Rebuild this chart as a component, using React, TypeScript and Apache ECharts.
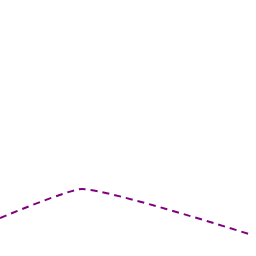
import React, { useEffect, useRef } from "react";
import * as echarts from "echarts";

const xValues = [0, 82, 252];
const values = [38, 67, 21];

export default function App() {
  const ref = useRef<HTMLDivElement>(null);
  useEffect(() => {
    const chart = echarts.init(ref.current!, null, { renderer: "svg" });
    chart.setOption({
      animation: false,
      grid: { left: 0, right: 4, top: 0, bottom: 0 },
      xAxis: { type: "value", min: 0, max: 252, show: false },
      yAxis: { type: "value", min: 0, max: 256, show: false },
      series: [
        {
          type: "line",
          data: xValues.map((x, i) => [x, values[i]]),
          smooth: 0.15,
          symbol: "none",
          clip: false,
          lineStyle: { color: "#800080", width: 2, type: [7, 5] },
        },
      ],
    });
    return () => chart.dispose();
  }, []);
  return (
    <div
      ref={ref}
      style={{ position: "fixed", left: 0, top: 0, width: 256, height: 256 }}
    />
  );
}
